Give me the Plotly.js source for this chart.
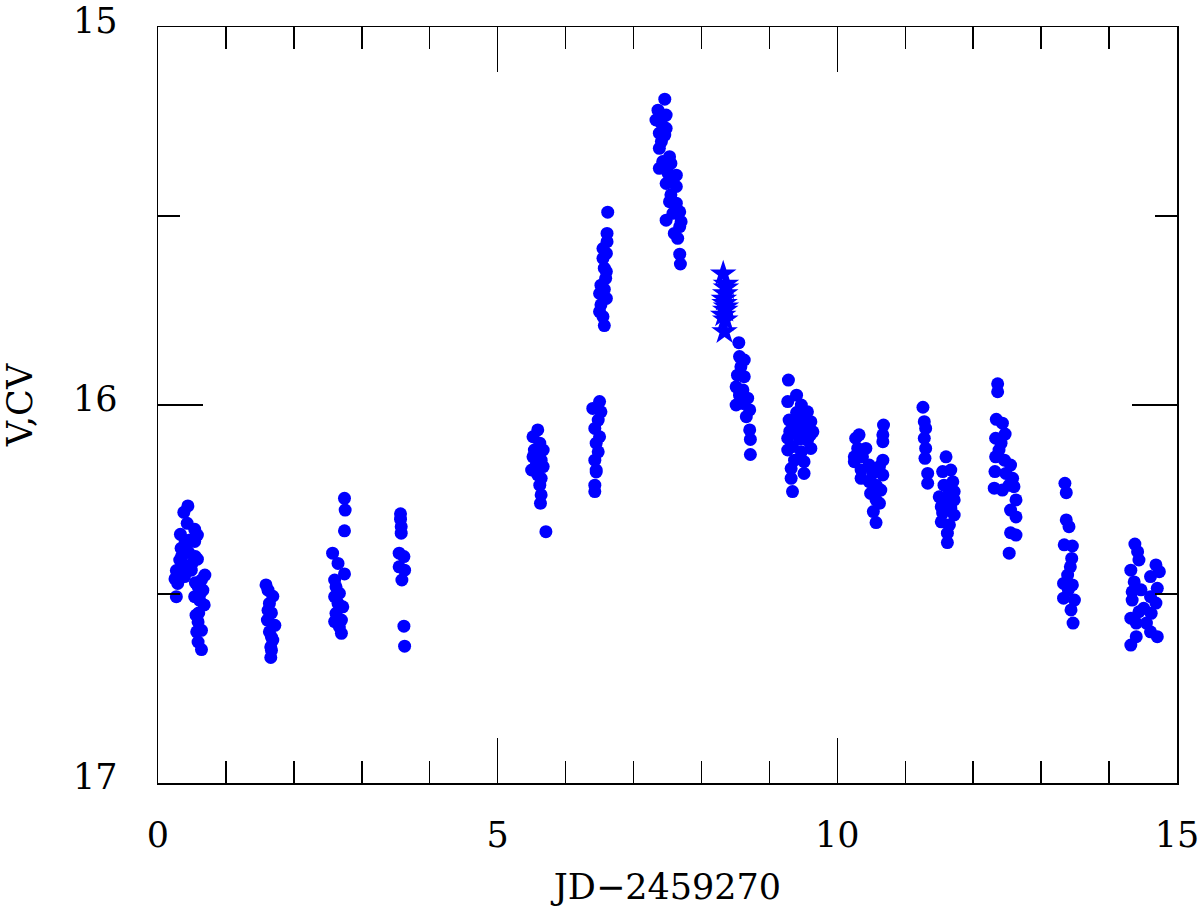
<!DOCTYPE html>
<html>
<head>
<meta charset="utf-8">
<script src="https://cdn.plot.ly/plotly-3.0.1.min.js"></script>
<style>html,body{margin:0;padding:0;background:#fff;}</style>
</head>
<body>
<div id="chart" style="width:1200px;height:907px;"></div>
<script>
// V-band magnitudes (circles), by night
const circleJD = [
  // night ~0.4
  0.44,0.38,0.43,0.54,0.58,0.33,0.47,0.54,0.34,0.42,0.55,0.58,0.32,0.37,0.27,0.49,0.69,0.39,0.64,0.29,0.59,0.66,0.27,0.54,0.61,0.68,0.56,0.59,0.64,0.59,0.64,
  0.25,0.30,0.35,0.40,0.45,0.50,0.55,0.62,0.60,0.57,
  // night ~1.65
  1.59,1.62,1.69,1.64,1.62,1.67,1.61,1.72,1.64,1.67,1.69,1.66,1.67,1.66,
  // night ~2.65
  2.745,2.755,2.745,2.57,2.65,2.745,2.60,2.62,2.67,2.60,2.65,2.72,2.62,2.70,2.60,2.67,2.70,
  // night ~3.6
  3.57,3.57,3.58,3.58,3.55,3.62,3.55,3.63,3.59,3.62,3.63,
  // night ~5.6
  5.59,5.52,5.62,5.54,5.67,5.52,5.64,5.57,5.67,5.50,5.59,5.64,5.62,5.64,5.63,5.71,
  // night ~6.5 (lower)
  6.50,6.40,6.52,6.48,6.43,6.50,6.45,6.48,6.43,6.45,6.45,6.43,6.43,
  // night ~6.6 (upper)
  6.62,6.61,6.61,6.55,6.60,6.55,6.57,6.60,6.59,6.52,6.57,6.50,6.60,6.52,6.50,6.55,6.57,
  // night ~7.5 (peak)
  7.46,7.36,7.48,7.33,7.41,7.48,7.38,7.46,7.41,7.38,7.53,7.43,7.55,7.38,7.48,7.51,7.63,7.58,7.48,7.63,7.55,7.53,7.63,7.68,7.58,7.48,7.70,7.68,7.60,7.65,7.68,7.69,
  // night ~8.6
  8.55,8.56,8.63,8.58,8.53,8.63,8.51,8.61,8.56,8.68,8.51,8.61,8.71,8.66,8.71,8.72,8.72,
  // night ~9.45
  9.28,9.40,9.27,9.47,9.56,9.29,9.44,9.61,9.37,9.51,9.64,9.27,9.44,9.56,9.34,9.61,9.27,9.47,9.37,9.51,9.32,9.51,9.32,9.34,9.45,9.40,9.53,9.60,9.30,
  // night ~10.45
  10.32,10.27,10.68,10.67,10.67,10.30,10.42,10.25,10.37,10.67,10.25,10.47,10.62,10.35,10.52,10.67,10.35,10.47,10.57,10.64,10.49,10.57,10.62,10.53,10.57,
  // night ~11.5
  11.26,11.28,11.30,11.28,11.30,11.29,11.33,11.33,11.60,11.67,11.55,11.70,11.57,11.65,11.72,11.50,11.60,11.72,11.53,11.67,11.55,11.72,11.53,11.65,11.62,11.62,
  // night ~12.5
  12.36,12.36,12.34,12.43,12.47,12.33,12.41,12.38,12.33,12.46,12.55,12.32,12.48,12.58,12.53,12.31,12.60,12.43,12.63,12.55,12.63,12.55,12.63,12.53,
  // night ~13.4
  13.35,13.37,13.37,13.41,13.34,13.46,13.45,13.43,13.39,13.33,13.46,13.40,13.33,13.49,13.44,13.47,
  // night ~14.5
  14.38,14.42,14.44,14.69,14.32,14.74,14.37,14.61,14.71,14.34,14.47,14.61,14.34,14.69,14.51,14.44,14.62,14.32,14.40,14.55,14.61,14.71,14.40,14.32
];
const circleMag = [
  16.267,16.284,16.313,16.329,16.344,16.342,16.357,16.361,16.379,16.384,16.401,16.408,16.410,16.423,16.438,16.437,16.450,16.454,16.463,16.472,16.481,16.490,16.507,16.507,16.516,16.529,16.556,16.574,16.596,16.627,16.647,
  16.460,16.440,16.400,16.360,16.390,16.420,16.470,16.500,16.550,16.600,
  16.476,16.490,16.506,16.525,16.543,16.550,16.569,16.583,16.600,16.614,16.622,16.640,16.649,16.668,
  16.247,16.278,16.333,16.392,16.419,16.447,16.463,16.481,16.498,16.507,16.525,16.534,16.551,16.569,16.573,16.587,16.604,
  16.288,16.302,16.322,16.339,16.392,16.401,16.428,16.437,16.463,16.585,16.638,
  16.066,16.084,16.101,16.119,16.119,16.137,16.146,16.159,16.163,16.172,16.185,16.194,16.212,16.238,16.260,16.335,
  15.991,16.009,16.018,16.040,16.062,16.084,16.101,16.124,16.146,16.172,16.177,16.212,16.229,
  15.490,15.546,15.568,15.586,15.599,15.612,15.638,15.647,15.665,15.683,15.694,15.705,15.718,15.735,15.753,15.766,15.790,
  15.191,15.220,15.233,15.246,15.255,15.268,15.281,15.286,15.303,15.321,15.343,15.356,15.361,15.374,15.374,15.387,15.392,15.405,15.414,15.422,15.444,15.462,15.466,15.489,15.493,15.511,15.515,15.528,15.546,15.559,15.601,15.627,
  15.835,15.872,15.881,15.899,15.921,15.925,15.952,15.960,15.974,15.982,16.000,15.996,16.013,16.031,16.066,16.091,16.131,
  15.934,15.974,15.991,16.000,16.018,16.040,16.035,16.044,16.058,16.058,16.071,16.088,16.079,16.093,16.110,16.115,16.119,16.124,16.146,16.150,16.168,16.181,16.194,16.229,16.090,16.020,16.030,16.080,16.070,
  16.079,16.088,16.053,16.079,16.097,16.115,16.115,16.137,16.137,16.146,16.150,16.159,16.163,16.172,16.181,16.185,16.194,16.203,16.212,16.225,16.234,16.251,16.260,16.282,16.311,
  16.006,16.044,16.062,16.088,16.115,16.141,16.181,16.207,16.137,16.172,16.176,16.203,16.212,16.229,16.229,16.243,16.251,16.251,16.269,16.273,16.286,16.291,16.309,16.317,16.339,16.364,
  15.944,15.965,16.038,16.048,16.077,16.088,16.101,16.119,16.137,16.146,16.159,16.176,16.181,16.194,16.212,16.220,16.216,16.225,16.251,16.278,16.296,16.338,16.344,16.392,
  16.207,16.232,16.304,16.322,16.370,16.373,16.406,16.428,16.450,16.472,16.476,16.489,16.511,16.516,16.542,16.577,
  16.368,16.388,16.410,16.423,16.437,16.441,16.468,16.454,16.485,16.494,16.489,16.507,16.516,16.524,16.538,16.547,16.551,16.564,16.577,16.577,16.600,16.613,16.613,16.635
];
// CV-band magnitudes (stars)
const starJD  = [8.32,8.36,8.35,8.34,8.35,8.32,8.35,8.34,8.36,8.33,8.36];
const starMag = [15.653,15.680,15.705,15.731,15.749,15.762,15.775,15.806,15.690,15.720,15.740];

const xTitle = "JD\u22122459270";
const yTitle = "V,CV";

const fontFam = "DejaVu Serif, serif";
const fontSize = 35;

const traces = [
  {x: circleJD, y: circleMag, type: 'scatter', mode: 'markers',
   marker: {symbol: 'circle', size: 13, color: '#0000ff', line: {width: 0}},
   hoverinfo: 'skip', showlegend: false},
  {x: starJD, y: starMag, type: 'scatter', mode: 'markers',
   marker: {symbol: 'star', size: 20, color: '#0000ff', line: {width: 0}},
   hoverinfo: 'skip', showlegend: false}
];

const axisCommon = {
  showgrid: false, zeroline: false,
  showline: true, linecolor: 'black', linewidth: 1.5, mirror: 'allticks',
  ticks: 'inside', tickcolor: 'black', tickwidth: 1.5, ticklen: 45,
  ticklabeloverflow: 'allow',
  tickfont: {family: fontFam, size: fontSize, color: 'black'}
};

const layout = {
  width: 1200, height: 907,
  margin: {l: 158, r: 23, t: 27, b: 124},
  paper_bgcolor: 'white', plot_bgcolor: 'white',
  showlegend: false,
  xaxis: Object.assign({}, axisCommon, {
    range: [0, 15], autorange: false, dtick: 5, tick0: 0,
    ticklabelstandoff: 20,
    minor: {ticks: 'inside', ticklen: 22, dtick: 1, tick0: 0, tickcolor: 'black', tickwidth: 1.5, showgrid: false},
    title: {text: xTitle, standoff: 56, font: {family: fontFam, size: fontSize, color: 'black'}}
  }),
  yaxis: Object.assign({}, axisCommon, {
    range: [17, 15], autorange: false, dtick: 1, tick0: 15,
    ticklabelstandoff: 32, ticklabelshift: 6,
    minor: {ticks: 'inside', ticklen: 22, dtick: 0.5, tick0: 15, tickcolor: 'black', tickwidth: 1.5, showgrid: false},
    title: {text: yTitle, standoff: 42, font: {family: fontFam, size: fontSize, color: 'black'}}
  })
};

Plotly.newPlot('chart', traces, layout, {displayModeBar: false, staticPlot: true});
</script>
</body>
</html>
